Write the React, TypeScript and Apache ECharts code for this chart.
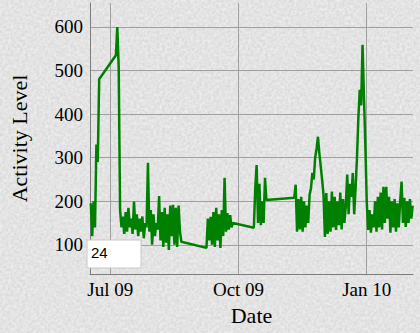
import { useEffect, useRef } from "react";
import * as echarts from "echarts";

const DAY = 86400000;

// Daily activity values, one array per run of consecutive days
const segmentStarts = ["2009-06-17", "2009-07-05", "2009-09-08", "2009-10-12", "2009-11-10"];
const segJun = [195, 120, 200, 140, 330, 290, 480];
const segJulAug = [
  535, 600, 510,
  180, 140, 165, 125, 175, 130, 185, 140, 160, 125, 199, 135, 170, 120, 160, 130, 165, 115, 150,
  140, 288,
  130, 180, 100, 170, 120, 150,
  135, 212, 110,
  175, 95, 185, 105, 170, 88, 190, 120, 192, 100, 185, 95, 190, 130, 107,
];
const segSep = [93, 160, 110, 164, 100, 175, 95, 185, 110, 170, 93, 180, 120, 254, 130, 173, 135, 168, 140, 150];
const segOct = [139, 230, 283, 150, 240, 145, 200, 150, 254, 203];
const segNovFeb = [
  208, 238, 130, 205, 135, 210, 130, 200, 140, 190, 150, 215,
  230, 265, 250, 300, 320, 348, 310, 280, 249, 215,
  118, 219, 125, 200, 130, 222, 140, 210, 134, 200,
  145, 220, 135, 205, 150, 190, 261, 170, 240, 210,
  265, 170, 230, 300, 391, 456, 420, 559, 440, 330,
  200, 134, 180, 128, 170, 140, 200, 130, 210, 140,
  220, 135, 233, 150, 233, 160, 210, 128, 200, 140,
  205, 130, 195, 140, 200, 245, 150, 208, 141, 200,
  150, 205, 160, 190,
];
const segmentValues = [segJun, segJulAug, segSep, segOct, segNovFeb];

const xTickDates = ["2009-07-01", "2009-10-01", "2010-01-01"];
const xTickLabels = ["Jul 09", "Oct 09", "Jan 10"];
const yTicks = [100, 200, 300, 400, 500, 600];
const xRange = ["2009-06-16T10:00:00Z", "2010-02-03T05:00:00Z"];
const yRange = [33, 655];
const rollPeriod = "24";

const SERIF = "'Liberation Serif', 'Times New Roman', serif";

const texture =
  "url(\"data:image/svg+xml;utf8," +
  encodeURIComponent(
    "<svg xmlns='http://www.w3.org/2000/svg' width='240' height='240'>" +
      "<filter id='n'><feTurbulence type='fractalNoise' baseFrequency='0.35' numOctaves='3' stitchTiles='stitch'/>" +
      "<feColorMatrix values='0 0 0 0 1  0 0 0 0 1  0 0 0 0 1  0.9 0 0 0 -0.2'/></filter>" +
      "<rect width='240' height='240' fill='#dadada'/>" +
      "<rect width='240' height='240' filter='url(#n)'/></svg>"
  ) +
  "\")";

export default function App() {
  const ref = useRef<HTMLDivElement>(null);

  useEffect(() => {
    if (!ref.current) return;
    const chart = echarts.init(ref.current, null, { renderer: "svg" });

    const data: [number, number][] = [];
    segmentStarts.forEach((s, i) => {
      const t0 = Date.parse(s);
      segmentValues[i].forEach((v, k) => data.push([t0 + k * DAY, v]));
    });
    const xTicks = xTickDates.map((d) => Date.parse(d));

    chart.setOption({
      animation: false,
      backgroundColor: "transparent",
      grid: { left: 86, right: 7, top: 3, bottom: 59 },
      xAxis: {
        type: "value",
        min: Date.parse(xRange[0]),
        max: Date.parse(xRange[1]),
        axisLine: { show: true, lineStyle: { color: "#7d7d7d", width: 1 } },
        axisTick: { show: false, customValues: xTicks },
        axisLabel: {
          customValues: xTicks,
          formatter: (v: number) => {
            const i = xTicks.indexOf(v);
            return i >= 0 ? xTickLabels[i] : "";
          },
          color: "#000",
          fontFamily: SERIF,
          fontSize: 19,
          margin: 6,
          hideOverlap: false,
        },
        splitLine: { show: true, lineStyle: { color: "#a0a0a0", width: 1 } },
        name: "Date",
        nameLocation: "middle",
        nameGap: 30,
        nameTextStyle: { color: "#000", fontFamily: SERIF, fontSize: 22 },
      },
      yAxis: {
        type: "value",
        min: yRange[0],
        max: yRange[1],
        axisLine: { show: true, lineStyle: { color: "#7d7d7d", width: 1 } },
        axisTick: { show: false, customValues: yTicks },
        axisLabel: {
          customValues: yTicks,
          color: "#000",
          fontFamily: SERIF,
          fontSize: 19,
          margin: 7,
        },
        splitLine: { show: true, lineStyle: { color: "#a0a0a0", width: 1 } },
        name: "Activity Level",
        nameLocation: "middle",
        nameGap: 60,
        nameTextStyle: { color: "#000", fontFamily: SERIF, fontSize: 22 },
      },
      series: [
        {
          type: "line",
          data,
          showSymbol: false,
          symbol: "none",
          lineStyle: { color: "#008000", width: 2.5 },
          z: 3,
        },
      ],
      graphic: [
        {
          type: "rect",
          left: 86.5,
          top: 239.5,
          shape: { width: 54, height: 28 },
          style: { fill: "#ffffff", stroke: "#c8c8c8", lineWidth: 1 },
          z: 100,
        },
        {
          type: "text",
          left: 91,
          top: 245,
          style: {
            text: rollPeriod,
            fill: "#000",
            font: "15px 'Liberation Sans', Arial, sans-serif",
          },
          z: 101,
        },
      ],
    });

    return () => chart.dispose();
  }, []);

  return (
    <div
      style={{
        position: "fixed",
        left: 0,
        top: 0,
        width: 420,
        height: 333,
        backgroundColor: "#e1e1e1",
        backgroundImage: texture,
      }}
    >
      <div ref={ref} style={{ width: 420, height: 333 }} />
    </div>
  );
}
